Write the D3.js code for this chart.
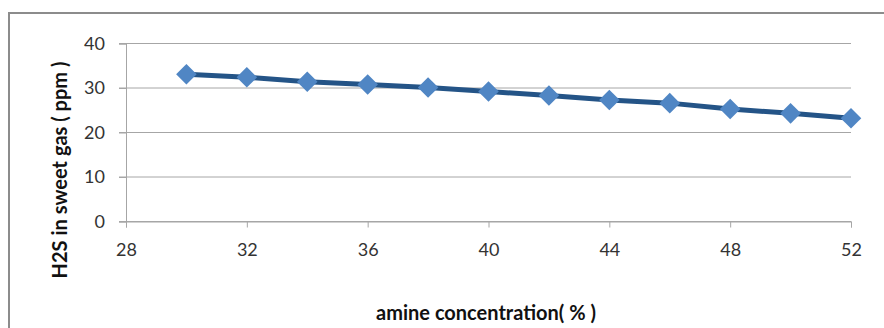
<!DOCTYPE html>
<html>
<head>
<meta charset="utf-8">
<script src="https://cdn.jsdelivr.net/npm/d3@7"></script>
<style>
  body { margin: 0; background: #fff; }
  svg { display: block; }
  text { font-family: Lato, "Open Sans", sans-serif; }
</style>
</head>
<body>
<svg width="884" height="328"></svg>
<script>
const concentration = [30, 32, 34, 36, 38, 40, 42, 44, 46, 48, 50, 52];
const h2s = [33.1, 32.4, 31.4, 30.8, 30.1, 29.2, 28.3, 27.3, 26.6, 25.3, 24.3, 23.2];
const xTicks = [28, 32, 36, 40, 44, 48, 52];
const yTicks = [0, 10, 20, 30, 40];

const svg = d3.select("svg");

// outer chart frame (cut off at right and bottom like the reference)
svg.append("rect")
  .attr("x", 9).attr("y", 13)
  .attr("width", 900).attr("height", 340)
  .attr("fill", "none")
  .attr("stroke", "#8c8c8c")
  .attr("stroke-width", 2);

const x = d3.scaleLinear().domain([28, 52]).range([126, 851]);
const y = d3.scaleLinear().domain([0, 40]).range([221.5, 43.5]);

// gridlines
svg.append("g")
  .selectAll("line")
  .data(yTicks)
  .enter()
  .append("line")
    .attr("x1", 119).attr("x2", 851)
    .attr("y1", d => y(d)).attr("y2", d => y(d))
    .attr("stroke", "#a6a6a6")
    .attr("stroke-width", 1);

// y axis
const yAxis = svg.append("g")
  .attr("transform", "translate(126,0)")
  .call(d3.axisLeft(y).tickValues(yTicks).tickSize(7).tickPadding(14));
yAxis.attr("font-family", null);
yAxis.select(".domain").attr("stroke", "#a6a6a6");
yAxis.selectAll(".tick line").attr("stroke", "#a6a6a6");
yAxis.selectAll("text").attr("font-size", 18).attr("fill", "#333");

// x axis
const xAxis = svg.append("g")
  .attr("transform", `translate(0,${y(0)})`)
  .call(d3.axisBottom(x).tickValues(xTicks).tickSize(6).tickPadding(16));
xAxis.attr("font-family", null);
xAxis.select(".domain").attr("stroke", "#a6a6a6");
xAxis.selectAll(".tick line").attr("stroke", "#a6a6a6");
xAxis.selectAll("text").attr("font-size", 18).attr("fill", "#333");

// line
const line = d3.line()
  .x((d, i) => x(concentration[i]))
  .y(d => y(d));

svg.append("path")
  .datum(h2s)
  .attr("d", line)
  .attr("fill", "none")
  .attr("stroke", "#245487")
  .attr("stroke-width", 5);

// diamond markers
svg.append("g")
  .selectAll("path")
  .data(h2s)
  .enter()
  .append("path")
    .attr("d", d3.symbol().type(d3.symbolDiamond2).size(270))
    .attr("transform", (d, i) => `translate(${x(concentration[i])},${y(d)})`)
    .attr("fill", "#5086c4");

// axis titles
svg.append("text")
  .attr("x", 486).attr("y", 320)
  .attr("text-anchor", "middle")
  .attr("font-size", 20)
  .attr("font-weight", "bold")
  .attr("fill", "#111")
  .text("amine concentration( % )");

svg.append("text")
  .attr("transform", "translate(67,170) rotate(-90)")
  .attr("text-anchor", "middle")
  .attr("font-size", 20)
  .attr("font-weight", "bold")
  .attr("fill", "#111")
  .text("H2S in sweet gas ( ppm )");
</script>
</body>
</html>
